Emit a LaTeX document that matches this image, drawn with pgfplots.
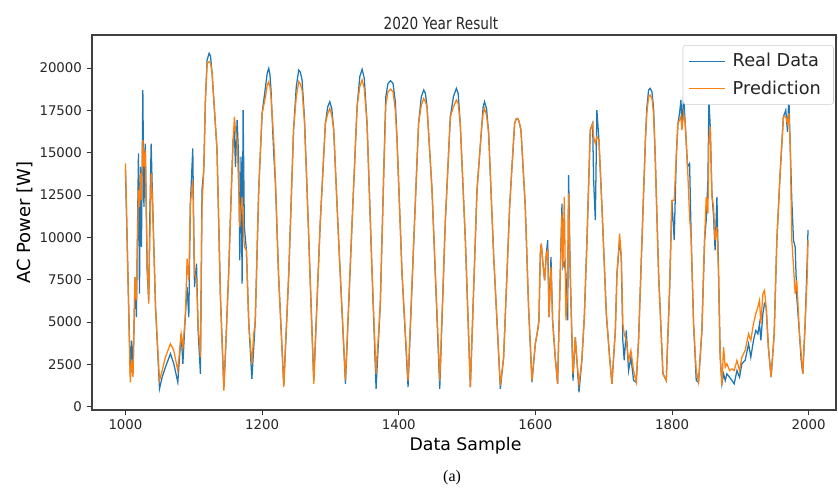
\documentclass[border=0pt]{standalone}
\usepackage{pgfplots}
\usepackage{pgfplotstable}
\pgfplotsset{compat=1.18}
\usepackage{fontspec}
\setmainfont{DejaVu Sans}
\newfontfamily\condfont[FakeStretch=0.82]{DejaVu Sans}
\newfontfamily\seriffont{Liberation Serif}
\definecolor{mplblue}{HTML}{1F77B4}
\definecolor{mplorange}{HTML}{FF7F0E}

\pgfplotstableread{
x real pred
1000 13970 14360
1007 1940 1440
1009 3900 2720
1011 1940 1740
1014 7650 7650
1016 5290 6280
1019 14950 12780
1020.5 6670 11800
1022 14160 13770
1023.4 9430 12190
1025.4 18700 15740
1027 11800 14160
1029 15540 15150
1031.7 8050 8840
1034 6280 6080
1035.6 11200 9830
1037.6 15540 13770
1039.5 12390 12190
1044 5880 5880
1049.8 1050 1540
1053.7 1740 2130
1058.5 2330 2920
1065.8 3120 3710
1070.7 2530 3320
1076.6 1440 2130
1081.5 4300 4300
1084 2530 3500
1087.8 5490 5490
1090.2 7060 8740
1092.7 5290 7460
1095 11990 11990
1098.5 15250 13370
1101 7060 7850
1104 8440 7460
1106.3 4500 4900
1109.7 1940 2920
1112 12780 11800
1114.6 13960 13960
1117 18100 18100
1119.5 20470 20280
1122.4 20870 20380
1124.5 20700 20300
1126.8 19690 19690
1134 15150 15150
1139 6470 6470
1144 1150 950
1146.3 3120 3120
1151 7850 7850
1154.6 12390 12390
1157.5 15740 15740
1159.5 16130 17120
1161 14160 16330
1163.4 16920 15740
1165.8 14560 12780
1167.3 8640 10610
1169.2 14760 11800
1170.7 7260 12390
1172.2 17510 11010
1174 10610 9430
1177 9230 9230
1180.5 4900 4900
1185 1640 2530
1187.8 3510 4300
1190 5090 5090
1195 12780 12780
1200 17320 17320
1205 18900 18300
1207.5 19700 19000
1209.7 19980 19190
1211.5 19600 18900
1213 18700 18300
1217 14950 15740
1219.5 13180 13370
1224 7850 7850
1231.7 1240 1150
1239 7850 7850
1246 16330 16330
1250 18900 18300
1253.6 19880 19190
1256 19750 19050
1258.5 19290 18700
1262 17000 16800
1265.8 12780 12780
1275.6 1540 1350
1285 10810 10810
1292.6 16730 16730
1296 17700 17300
1299 18010 17610
1302 17600 17200
1304.8 16330 16330
1312 9830 9830
1322 1350 1540
1331.6 10810 10810
1339 17710 17710
1343 19500 18900
1346.3 19920 19290
1349.5 19400 18800
1353.6 16730 16730
1361 7850 7850
1366.8 1050 1940
1373 6080 6080
1378 13770 13770
1381 18300 17800
1384.3 19090 18600
1388 19250 18750
1391.6 19090 18600
1395 18000 17500
1397.5 15740 15740
1404.8 7850 7850
1413.6 1150 1540
1422 9830 9830
1429 16730 16730
1433 18300 17800
1436.5 18700 18200
1439 18500 18000
1441.4 17710 17710
1448.7 12780 12780
1460 1050 1540
1468 10810 10810
1475.5 17120 17120
1480 18300 17700
1484.3 18800 18110
1487 18500 17900
1490 16730 16730
1497.5 9830 9830
1504.8 1150 1150
1514.5 12780 12780
1521.8 16730 16730
1523.5 17700 17300
1525.5 18010 17610
1528.5 17600 17200
1531.6 16130 16130
1539 8840 8840
1548.7 1050 1250
1553.5 2920 2920
1558.4 7850 7850
1562.3 11800 11800
1565.7 14160 14160
1569.6 16730 16730
1572 17000 17000
1574 17020 17020
1576 16850 16850
1578.9 16330 16330
1585.2 11800 11800
1590 5880 5880
1595 1440 1540
1599.9 3710 3710
1603.3 4500 4500
1605.2 5090 5090
1607.2 9040 9040
1608.6 9630 9630
1610.6 8640 8640
1613.5 7460 7460
1616 9040 9040
1618 9830 9230
1620 5290 5290
1622.8 8840 8250
1625.2 5090 5090
1629 2920 2920
1632.5 1350 1350
1636.4 7850 7850
1638.9 11990 11400
1640.3 8250 8250
1642.3 8500 12390
1644.7 7850 5090
1647.2 5090 7000
1648.6 13670 12590
1651 7850 7850
1655 1540 1940
1658.4 4100 4100
1660.8 2730 2730
1663.8 850 1350
1668 2730 2730
1671.6 5290 5290
1675.5 9830 9830
1680.3 16330 16330
1683.8 16730 16730
1685.2 13370 15940
1687.7 11010 15540
1690 17510 15940
1693 15740 15740
1697.4 11800 11800
1703.8 5490 5490
1708.6 2920 2920
1712 1350 1350
1717 4500 4500
1719.4 7850 7850
1723.3 9830 10220
1725.7 8840 8840
1728 3910 4900
1730 2730 4300
1733 4500 3910
1736.4 2130 2730
1739.8 2920 3320
1743.7 1540 2130
1747.6 1440 1440
1751 3910 3910
1756 9830 9830
1761 15740 15740
1763 17600 17300
1765.7 18700 18300
1768 18800 18400
1770.6 18600 18200
1773 17600 17300
1775.4 14760 14760
1780.3 7850 7850
1786.7 1940 1940
1791.5 1540 1540
1796.4 6870 6870
1799.8 12190 12190
1803.2 9830 12190
1806.2 14760 14760
1808.6 16730 16730
1811 17320 16920
1813 18110 17120
1814.5 16730 16330
1817 18300 17320
1819.3 16730 16730
1822.7 14160 14160
1825.7 14360 11200
1828.1 9830 9830
1831.5 4900 4900
1835.4 1540 2130
1838.8 1440 1440
1843.7 4500 4500
1847.6 9830 9830
1850 11010 12390
1852.5 13370 11400
1854 18110 15740
1855.9 16530 16530
1858.4 12590 12390
1860.8 11200 11800
1863 9230 9830
1865.7 12390 10610
1868.1 7850 7850
1870.5 2920 2920
1873 1350 1250
1875.4 1940 3510
1877.9 1540 2330
1880.3 1940 2530
1884.2 1740 2130
1887.6 1540 2230
1891 1350 2130
1895 2130 2730
1898.8 1740 2130
1902.2 2530 2920
1907 2730 3320
1912 3710 4300
1915.3 2920 3910
1919.2 3910 4900
1922.6 4500 5490
1925.6 4300 5880
1928 4900 6280
1930 3910 4900
1933 5490 6670
1935.3 6080 6870
1937.8 5880 5880
1941 3510 3510
1945 1740 1740
1949.5 4300 4300
1953.4 9830 9830
1958.2 13770 13770
1963 17120 17120
1966.5 17510 17120
1969 16230 16730
1971 18300 17320
1973 15350 15350
1975.3 12190 9830
1977.8 9830 8250
1980.2 9430 6670
1982.6 6470 7460
1986.5 4300 4300
1989 2730 3120
1991.4 1940 1940
1994.8 4900 4900
1998 8840 7850
1999 10420 9830
}\datatable

\begin{document}
\begin{tikzpicture}
\path[use as bounding box] (-69pt,-58.5pt) rectangle (559.5pt,307.5pt);
\begin{axis}[
  at={(0,0)}, anchor=south west,
  scale only axis,
  width=558pt, height=281.25pt,
  xmin=951, xmax=2040,
  ymin=-200, ymax=21950,
  xtick={1000,1200,1400,1600,1800,2000},
  ytick={0,2500,5000,7500,10000,12500,15000,17500,20000},
  scaled y ticks=false, scaled x ticks=false,
  /pgf/number format/assume math mode=true,
  /pgf/number format/set thousands separator={},
  tick label style={font=\fontsize{10}{12}\selectfont, text=black!85},
  tick align=outside, xtick pos=bottom, ytick pos=left,
  major tick length=4pt,
  tick style={black!80, line width=0.6pt},
  axis line style={black!75, line width=0.8pt},
  clip=false,
  xlabel={Data Sample},
  ylabel={AC Power [W]},
  xlabel style={font=\fontsize{13}{15}\selectfont, at={(axis description cs:0.502,-0.096)}, anchor=center},
  ylabel style={font=\fontsize{13.5}{15}\selectfont, at={(axis description cs:-0.09,0.5)}, anchor=center},
  title={\condfont 2020 Year Result},
  title style={font=\fontsize{12.5}{14}\selectfont, at={(axis description cs:0.469,1.011)}, anchor=center, text=black!85},
  legend style={at={(0.997,0.973)}, anchor=north east, font=\fontsize{13.3}{15}\selectfont,
    draw=black!20, rounded corners=2pt, inner xsep=4pt, inner ysep=4pt, row sep=5pt,
    text=black!85},
  legend cell align=left,
  legend image code/.code={\draw[#1, line width=0.8pt] (0pt,0pt) -- (27pt,0pt);},
  legend style={nodes={inner xsep=5.5pt}},
]
\addplot[mplblue, line width=0.95pt] table[x=x, y=real] {\datatable};
\addlegendentry{Real Data}
\addplot[mplorange, line width=0.95pt] table[x=x, y=pred] {\datatable};
\addlegendentry{Prediction}
\node[font=\seriffont\fontsize{12}{14}\selectfont] at (axis description cs:0.484,-0.18) {(a)};
\end{axis}
\end{tikzpicture}
\end{document}
